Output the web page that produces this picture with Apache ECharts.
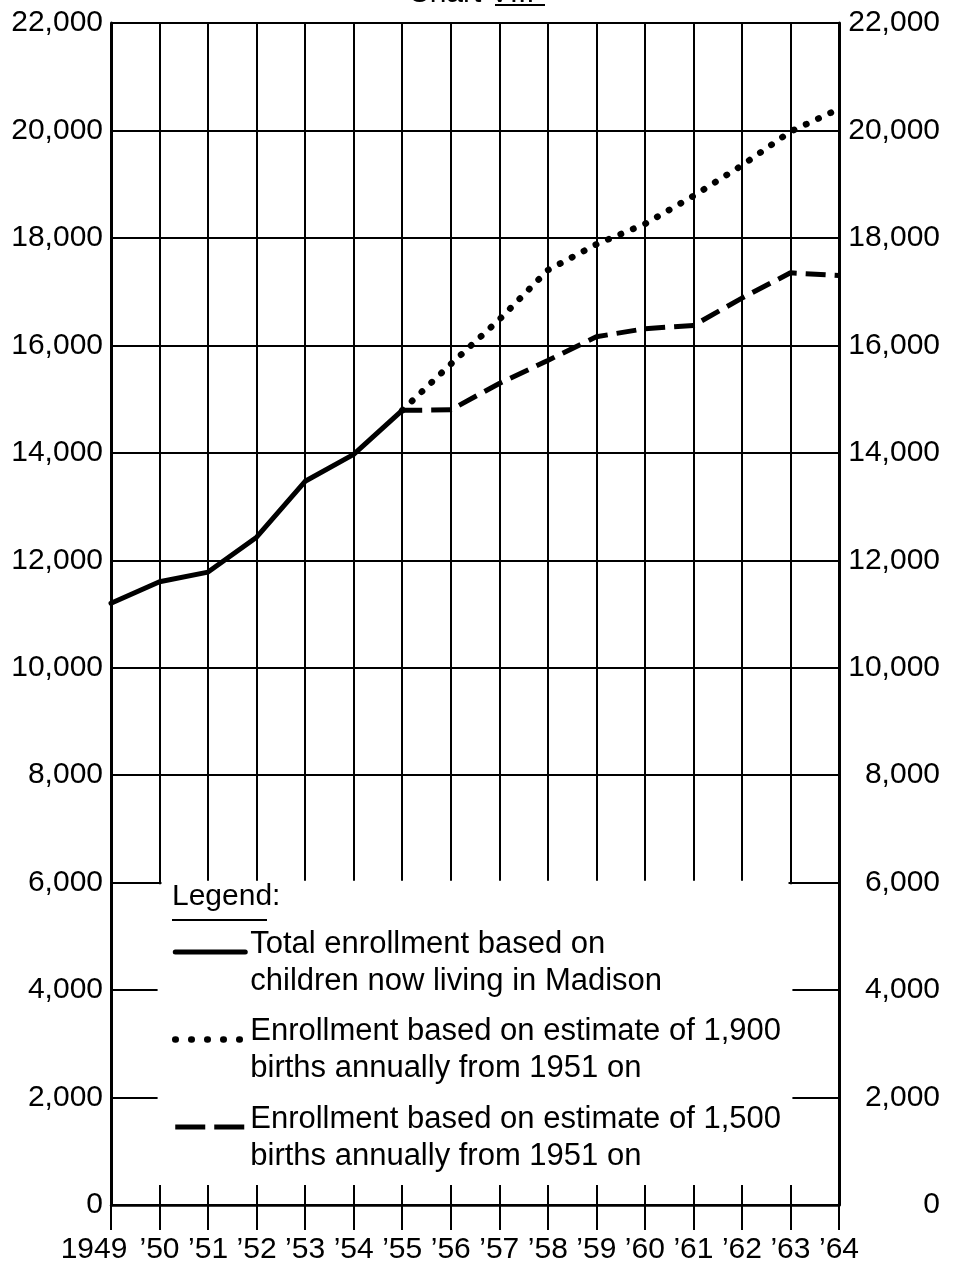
<!DOCTYPE html>
<html>
<head>
<meta charset="utf-8">
<script src="https://cdn.jsdelivr.net/npm/echarts@6/dist/echarts.min.js"></script>
<style>
  html, body { margin: 0; padding: 0; background: #fff; }
  #chart01 { width: 964px; height: 1271px; }
</style>
</head>
<body>
<div id="chart01"></div>
<script>
var FONT = '"Liberation Sans", Arial, sans-serif';

// years on the x axis
var years       = [1949, 1950, 1951, 1952, 1953, 1954, 1955, 1956, 1957, 1958, 1959, 1960, 1961, 1962, 1963, 1964];
// total enrollment, children now living in Madison (1949-1955)
var totalYears  = [1949, 1950, 1951, 1952, 1953, 1954, 1955];
var totalVals   = [11200, 11600, 11780, 12430, 13470, 13970, 14790];
// estimates from 1955 on
var estYears    = [1955, 1956, 1957, 1958, 1959, 1960, 1961, 1962, 1963, 1964];
var est1900     = [14790, 15650, 16480, 17400, 17880, 18260, 18780, 19350, 19980, 20400];
var est1500     = [14790, 14800, 15290, 15720, 16160, 16310, 16370, 16880, 17350, 17300];

var names = [
    'Total enrollment based on\nchildren now living in Madison',
    'Enrollment based on estimate of 1,900\nbirths annually from 1951 on',
    'Enrollment based on estimate of 1,500\nbirths annually from 1951 on'
];

function pairs(xs, ys) {
    var out = [];
    xs.forEach(function (x, i) { out.push([x, ys[i]]); });
    return out;
}

// blank panel where the legend sits (grid hidden there)
var boxX0 = 1950, boxX1 = 1963, boxY0 = 370, boxY1 = 6000;

var cha01 = echarts.init(document.getElementById('chart01'));
var opt01 = {
    animation: false,
    backgroundColor: '#fff',
    textStyle: { fontFamily: FONT, color: '#000' },
    title: {
        text: 'Chart VIII',
        left: 408,
        top: -21,
        padding: 0,
        textStyle: { fontFamily: FONT, fontSize: 30, fontWeight: 'normal', color: '#000' }
    },
    graphic: [
        { type: 'line', shape: { x1: 495, y1: 5, x2: 545, y2: 5 }, style: { stroke: '#000', lineWidth: 2 } },
        {
            type: 'text', left: 172, top: 882, z: 10,
            style: { text: 'Legend:', font: '30px ' + FONT, fill: '#000' }
        },
        { type: 'line', z: 10, shape: { x1: 172, y1: 920, x2: 267, y2: 920 }, style: { stroke: '#000', lineWidth: 2 } }
    ],
    grid: { left: 111, right: 125, top: 23, bottom: 66, containLabel: false },
    legend: {
        orient: 'vertical',
        left: 172,
        top: 914,
        padding: 0,
        itemWidth: 70,
        itemHeight: 12,
        itemGap: 5,
        itemTextGap: 9,
        selectedMode: false,
        itemStyle: { opacity: 0, borderWidth: 0 },
        lineStyle: { width: 5 },
        formatter: function (name) {
            var parts = name.split('\n');
            return '{s| }\n{t|' + parts[0] + '}\n{t|' + parts[1] + '}';
        },
        textStyle: {
            fontFamily: FONT, fontSize: 31, color: '#000',
            rich: {
                s: { fontSize: 2, lineHeight: 21 },
                t: { fontFamily: FONT, fontSize: 31, lineHeight: 37, color: '#000' }
            }
        },
        data: [
            { name: names[0] },
            { name: names[1], lineStyle: { width: 6.5, type: [0.5, 15.5], cap: 'round' } },
            { name: names[2], lineStyle: { width: 5, type: [30, 9] } }
        ]
    },
    xAxis: {
        type: 'value',
        min: 1949,
        max: 1964,
        interval: 1,
        axisLine: { show: true, lineStyle: { color: '#000', width: 2.5 } },
        axisTick: { show: true, length: 25, lineStyle: { color: '#000', width: 2 } },
        splitLine: { show: true, lineStyle: { color: '#000', width: 2 } },
        axisLabel: {
            fontFamily: FONT, fontSize: 30, color: '#000', margin: 30,
            formatter: function (v) {
                if (v === years[0]) return '{a|' + v + '}';
                return '\u2019' + String(v).slice(2);
            },
            rich: { a: { fontFamily: FONT, fontSize: 30, color: '#000', padding: [0, 34, 0, 0] } }
        }
    },
    yAxis: [
        {
            type: 'value', position: 'left', min: 0, max: 22000, interval: 2000,
            axisLine: { show: true, lineStyle: { color: '#000', width: 3 } },
            axisTick: { show: false },
            splitLine: { show: true, lineStyle: { color: '#000', width: 2 } },
            axisLabel: {
                fontFamily: FONT, fontSize: 30, color: '#000', margin: 8,
                formatter: function (v) { return v.toLocaleString('en-US'); }
            }
        },
        {
            type: 'value', position: 'right', min: 0, max: 22000, interval: 2000,
            axisLine: { show: true, lineStyle: { color: '#000', width: 3 } },
            axisTick: { show: false },
            splitLine: { show: false },
            axisLabel: {
                fontFamily: FONT, fontSize: 30, color: '#000', margin: 101, align: 'right',
                formatter: function (v) { return v.toLocaleString('en-US'); }
            }
        }
    ],
    series: [
        {
            name: 'blank',
            type: 'line',
            data: [],
            silent: true,
            markArea: {
                silent: true,
                itemStyle: { color: '#fff', opacity: 1, borderWidth: 0 },
                emphasis: { disabled: true },
                label: { show: false },
                data: [
                    [{ xAxis: boxX0 - 0.04, yAxis: boxY0 }, { xAxis: boxX1 + 0.04, yAxis: boxY1 - 30 }],
                    [{ xAxis: boxX0 + 0.04, yAxis: boxY1 - 60 }, { xAxis: boxX1 - 0.04, yAxis: boxY1 + 35 }]
                ]
            }
        },
        {
            name: names[0],
            type: 'line',
            symbol: 'none',
            z: 5,
            lineStyle: { color: '#000', width: 5, cap: 'round', join: 'round' },
            itemStyle: { color: '#000' },
            data: pairs(totalYears, totalVals)
        },
        {
            name: names[1],
            type: 'line',
            symbol: 'none',
            z: 5,
            lineStyle: { color: '#000', width: 6.5, type: [0.5, 13], cap: 'round' },
            itemStyle: { color: '#000' },
            data: pairs(estYears, est1900)
        },
        {
            name: names[2],
            type: 'line',
            symbol: 'none',
            z: 5,
            lineStyle: { color: '#000', width: 5, type: [20, 9] },
            itemStyle: { color: '#000' },
            data: pairs(estYears, est1500)
        }
    ]
};
cha01.setOption(opt01);
</script>
</body>
</html>
